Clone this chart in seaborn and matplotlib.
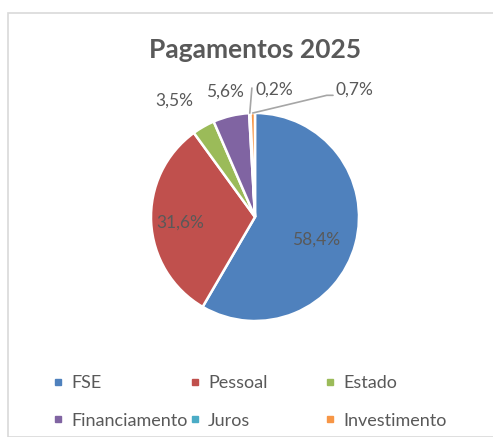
import numpy as np
import matplotlib
matplotlib.use('Agg')
import matplotlib.pyplot as plt
import seaborn as sns
from matplotlib.lines import Line2D
from matplotlib.patches import Rectangle

# Dados
categorias = ['FSE', 'Pessoal', 'Estado', 'Financiamento', 'Juros', 'Investimento']
valores = [58.4, 31.6, 3.5, 5.6, 0.2, 0.7]
rotulos = ['58,4%', '31,6%', '3,5%', '5,6%', '0,2%', '0,7%']
cores = ['#4F81BD', '#C0504D', '#9BBB59', '#8064A2', '#4BACC6', '#F79646']

sns.set_theme(style='white')
plt.rcParams['font.family'] = ['Lato', 'DejaVu Sans']
cinza = '#595959'

fig = plt.figure(figsize=(4.93, 4.37), dpi=100)
W, H = 493, 437

# moldura do gráfico
fig.patches.append(Rectangle((8 / W, 0), 1, 1 - 13 / H, transform=fig.transFigure,
                             fill=False, edgecolor='#D9D9D9', linewidth=1.2))

# eixo do pie: centro (255, 217) px, raio 104 px
R = 104
half = 1.5 * R
ax = fig.add_axes([(255 - half) / W, (H - 217 - half) / H, 2 * half / W, 2 * half / H])
ax.pie(valores, colors=sns.color_palette(cores), startangle=90, counterclock=False,
       radius=1, wedgeprops={'edgecolor': 'white', 'linewidth': 1.8})
ax.set_xlim(-1.5, 1.5)
ax.set_ylim(-1.5, 1.5)
ax.set_aspect('equal')
ax.axis('off')

# posições dos rótulos (unidades do raio)
pos_rot = [(0.59, -0.22), (-0.72, -0.05), (-0.78, 1.12), (-0.29, 1.21), (0.0, 1.22), (0.77, 1.22)]
alinh = ['center', 'center', 'center', 'center', 'left', 'left']
for txt, (x, y), ha in zip(rotulos, pos_rot, alinh):
    ax.text(x, y, txt, ha=ha, va='center', fontsize=12.5, color=cinza)

# linhas de chamada para as fatias pequenas
ang = 90 - 360 * (np.cumsum(valores) - np.array(valores) / 2) / 100
for i, pts in [(4, [(-0.03, 1.24)]), (5, [(0.69, 1.17), (0.75, 1.17)])]:
    a = np.deg2rad(ang[i])
    xs = [np.cos(a) * 1.0] + [p[0] for p in pts]
    ys = [np.sin(a) * 1.0] + [p[1] for p in pts]
    ax.plot(xs, ys, color='#A6A6A6', linewidth=1.2, clip_on=False)

fig.text(255 / W, 1 - 50 / H, 'Pagamentos 2025', ha='center', va='center',
         fontsize=19, fontweight='bold', color=cinza)

# legenda em três colunas
colunas = [[0, 3], [1, 4], [2, 5]]
xcol = [53, 190, 325]
for idx, x0 in zip(colunas, xcol):
    hs = [Line2D([], [], marker='s', linestyle='none', markersize=5,
                 markerfacecolor=cores[i], markeredgecolor=cores[i]) for i in idx]
    fig.legend(hs, [categorias[i] for i in idx], loc='upper left',
               bbox_to_anchor=(x0 / W, 1 - 375 / H), frameon=False,
               fontsize=13, labelcolor=cinza, handlelength=0.6, handletextpad=0.4,
               labelspacing=1.2, borderpad=0, borderaxespad=0)

fig.savefig('out.png', dpi=100)
